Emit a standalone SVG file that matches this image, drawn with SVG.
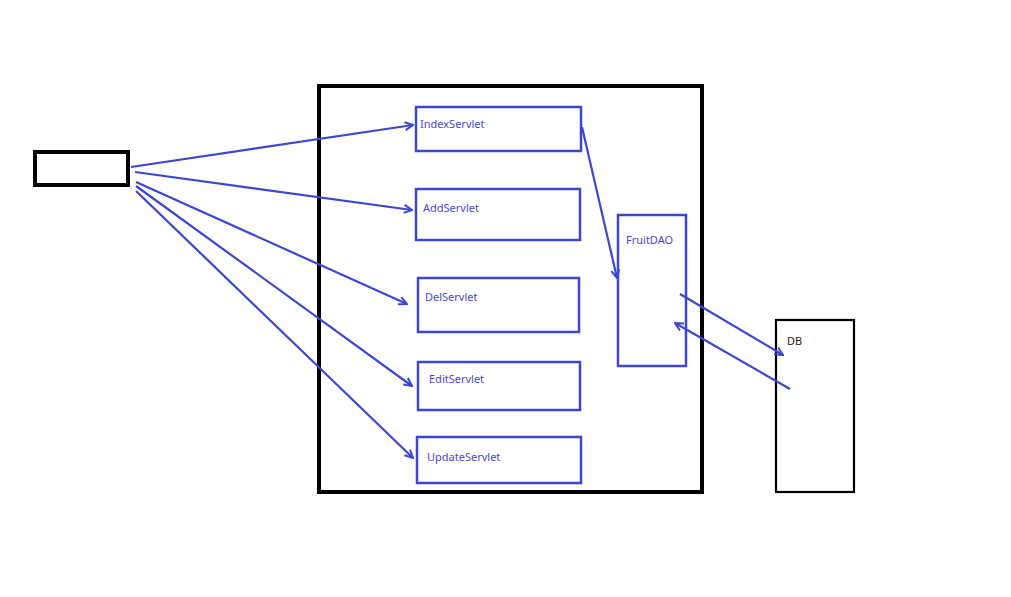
<svg xmlns="http://www.w3.org/2000/svg" width="1011" height="597" viewBox="0 0 1011 597">
<style>
.blk{fill:none;stroke:#000;stroke-width:4}
.node{fill:none;stroke:#3c46d2;stroke-width:2.5}
.lbl{font-family:"Noto Sans","DejaVu Sans",sans-serif;font-size:11px;fill:#4a45dc}
.dbl{font-family:"Noto Sans","DejaVu Sans",sans-serif;font-size:11px;fill:#222}
.con line{stroke:#3c46d2;stroke-width:2.2;fill:none}
</style>
<defs>
<marker id="ah" viewBox="0 0 10 10" refX="9" refY="5" markerWidth="10" markerHeight="10" markerUnits="userSpaceOnUse" orient="auto">
<polyline points="1,1 9,5 1,9" fill="none" stroke="#3c46d2" stroke-width="2"/>
</marker>
</defs>
<rect width="1011" height="597" fill="#fff"/>
<g id="client"><rect x="35" y="152" width="93" height="33" class="blk"/></g>
<g id="container"><rect x="319" y="86" width="383" height="406" class="blk"/></g>
<g id="IndexServlet"><rect x="416" y="107" width="165" height="44" class="node"/><text x="420" y="128" class="lbl">IndexServlet</text></g>
<g id="AddServlet"><rect x="416" y="189" width="164" height="51" class="node"/><text x="423" y="212" class="lbl">AddServlet</text></g>
<g id="DelServlet"><rect x="418" y="278" width="161" height="54" class="node"/><text x="425" y="301" class="lbl">DelServlet</text></g>
<g id="EditServlet"><rect x="418" y="362" width="162" height="48" class="node"/><text x="429" y="383" class="lbl">EditServlet</text></g>
<g id="UpdateServlet"><rect x="417" y="437" width="164" height="46" class="node"/><text x="427" y="461" class="lbl">UpdateServlet</text></g>
<g id="FruitDAO"><rect x="618" y="215" width="68" height="151" class="node"/><text x="626" y="244" class="lbl">FruitDAO</text></g>
<g id="DB"><rect x="776" y="320" width="78" height="172" fill="none" stroke="#000" stroke-width="2.2"/><text x="787" y="345" class="dbl">DB</text></g>
<g id="connectors" class="con">
<line x1="131" y1="167" x2="413" y2="125" marker-end="url(#ah)"/>
<line x1="135" y1="172" x2="412" y2="210" marker-end="url(#ah)"/>
<line x1="136" y1="182" x2="407" y2="304" marker-end="url(#ah)"/>
<line x1="136" y1="186" x2="412" y2="386" marker-end="url(#ah)"/>
<line x1="136" y1="191" x2="413" y2="458" marker-end="url(#ah)"/>
<line x1="582" y1="127" x2="617" y2="278" marker-end="url(#ah)"/>
<line x1="680" y1="294" x2="783" y2="355" marker-end="url(#ah)"/>
<line x1="790" y1="389" x2="675" y2="323" marker-end="url(#ah)"/>
</g>
</svg>
